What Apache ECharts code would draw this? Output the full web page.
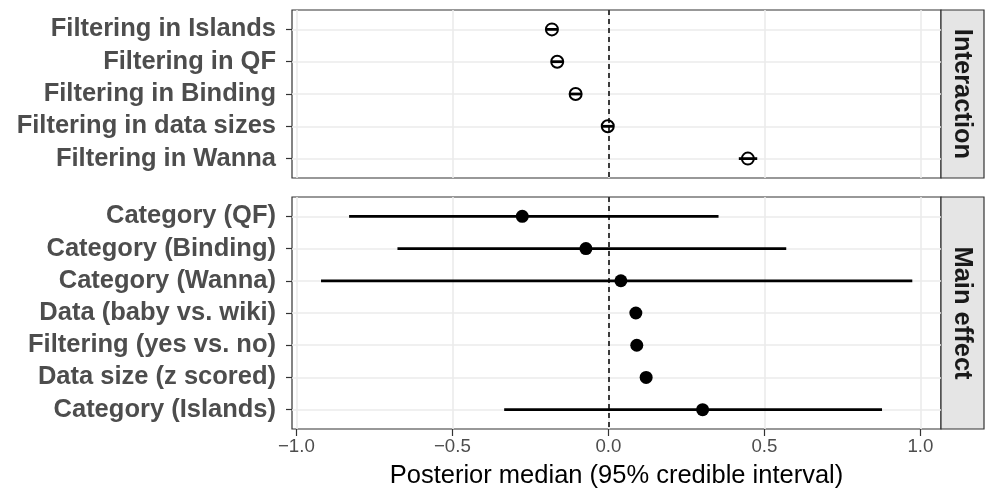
<!DOCTYPE html>
<html>
<head>
<meta charset="utf-8">
<script src="https://cdn.jsdelivr.net/npm/echarts@6/dist/echarts.min.js"></script>
<style>html,body{margin:0;padding:0;background:#fff}#chart{width:996px;height:501px}</style>
</head>
<body>
<div id="chart"></div>
<script>
// ---- data ----
const interactionLabels = ['Filtering in Islands', 'Filtering in QF', 'Filtering in Binding', 'Filtering in data sizes', 'Filtering in Wanna'];
const interactionMedian = [-0.181, -0.164, -0.105, -0.002, 0.447];
const interactionLower  = [-0.200, -0.183, -0.124, -0.020, 0.418];
const interactionUpper  = [-0.162, -0.145, -0.086, 0.016, 0.477];

const mainLabels = ['Category (QF)', 'Category (Binding)', 'Category (Wanna)', 'Data (baby vs. wiki)', 'Filtering (yes vs. no)', 'Data size (z scored)', 'Category (Islands)'];
const mainMedian = [-0.276, -0.072, 0.040, 0.088, 0.091, 0.121, 0.302];
const mainLower  = [-0.831, -0.676, -0.921, 0.076, 0.079, 0.109, -0.334];
const mainUpper  = [0.353, 0.570, 0.974, 0.100, 0.103, 0.133, 0.877];

const xTicks = [-1.0, -0.5, 0.0, 0.5, 1.0];
const facetLabels = ['Interaction', 'Main effect'];
const xTitle = 'Posterior median (95% credible interval)';

// ---- chart ----
const FONT = '"Liberation Sans", Arial, Helvetica, sans-serif';
const X_MIN = -1.014, X_MAX = 1.066;
const chart = echarts.init(document.getElementById('chart'), null, {renderer: 'canvas'});

const grids = [
  {left: 292, right: 55, top: 10, height: 168},
  {left: 292, right: 55, top: 197, height: 232}
];

function xAxisFor(i, showLabels) {
  return {
    type: 'value', gridIndex: i, min: X_MIN, max: X_MAX, splitNumber: 5, position: 'bottom',
    axisLine: {show: false, onZero: false},
    axisTick: {show: showLabels, customValues: xTicks, length: 7, lineStyle: {color: '#333333', width: 1.2}},
    axisLabel: {show: showLabels, customValues: xTicks, margin: 8, fontSize: 18.7, color: '#4D4D4D', fontFamily: FONT,
      formatter: v => (Math.abs(v) < 1e-9 ? 0 : v).toFixed(1).replace('-', '\u2212')},
    splitLine: {show: true, lineStyle: {color: '#EBEBEB', width: 1.6}},
    name: showLabels ? xTitle : '', nameLocation: 'middle', nameGap: 34,
    nameTextStyle: {fontSize: 25.5, color: '#000', fontFamily: FONT}
  };
}
function yAxisFor(i, labels) {
  const idx = labels.map((_, k) => k);
  return {
    type: 'value', gridIndex: i, inverse: true, min: -0.6, max: labels.length - 1 + 0.6, splitNumber: labels.length, position: 'left',
    axisLine: {show: false, onZero: false},
    axisTick: {show: true, customValues: idx, length: 6, lineStyle: {color: '#333333', width: 1.2}},
    axisLabel: {show: true, customValues: idx, margin: 16, fontSize: 25.5, fontWeight: 'bold', color: '#4D4D4D', fontFamily: FONT,
      formatter: v => (Number.isInteger(v) && labels[v] !== undefined) ? labels[v] : ''},
    splitLine: {show: true, lineStyle: {color: '#EBEBEB', width: 1.6}}
  };
}

function rangeSeries(i, lo, hi) {
  return {
    type: 'custom', xAxisIndex: i, yAxisIndex: i, silent: true, z: 3,
    data: lo.map((v, k) => [k, v, hi[k]]),
    encode: {x: [1, 2], y: 0},
    renderItem: (params, api) => {
      const p1 = api.coord([api.value(1), api.value(0)]);
      const p2 = api.coord([api.value(2), api.value(0)]);
      return {type: 'line', shape: {x1: p1[0], y1: p1[1], x2: p2[0], y2: p2[1]},
        style: {stroke: '#000', lineWidth: 2.8}};
    },
    markLine: {
      silent: true, symbol: 'none', label: {show: false}, animation: false,
      lineStyle: {color: '#000', width: 1.5, type: [5, 4]},
      data: [{xAxis: 0}]
    }
  };
}

const option = {
  animation: false,
  backgroundColor: '#fff',
  grid: grids.map(g => Object.assign({show: true, borderColor: '#333333', borderWidth: 1.2, backgroundColor: '#fff'}, g)),
  xAxis: [xAxisFor(0, false), xAxisFor(1, true)],
  yAxis: [yAxisFor(0, interactionLabels), yAxisFor(1, mainLabels)],
  series: [
    rangeSeries(0, interactionLower, interactionUpper),
    {
      type: 'scatter', xAxisIndex: 0, yAxisIndex: 0, z: 4, silent: true,
      symbol: 'circle', symbolSize: 12,
      itemStyle: {color: 'rgba(0,0,0,0)', borderColor: '#000', borderWidth: 2, opacity: 1},
      data: interactionMedian.map((v, k) => [v, k])
    },
    rangeSeries(1, mainLower, mainUpper),
    {
      type: 'scatter', xAxisIndex: 1, yAxisIndex: 1, z: 4, silent: true,
      symbol: 'circle', symbolSize: 13,
      itemStyle: {color: '#000', opacity: 1},
      data: mainMedian.map((v, k) => [v, k])
    }
  ],
  graphic: grids.map((g, i) => ({
    type: 'group',
    children: [
      {type: 'rect', shape: {x: 941, y: g.top, width: 43, height: g.height},
        style: {fill: '#E5E5E5', stroke: '#333333', lineWidth: 1.2}},
      {type: 'text', x: 962.5, y: g.top + g.height / 2, rotation: -Math.PI / 2,
        style: {text: facetLabels[i], fontSize: 25.5, fontWeight: 'bold', fill: '#1A1A1A', fontFamily: FONT,
          align: 'center', verticalAlign: 'middle'}}
    ]
  }))
};
chart.setOption(option);
</script>
</body>
</html>
